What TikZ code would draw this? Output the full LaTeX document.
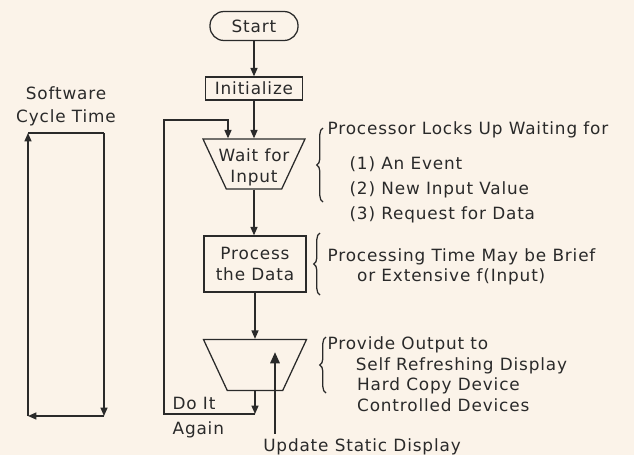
\documentclass[tikz,border=0pt]{standalone}
\usepackage{fontspec}
\setmainfont{DejaVu Sans}[LetterSpace=5]
\usetikzlibrary{shapes.geometric,arrows.meta,decorations.pathreplacing,positioning}
\definecolor{paper}{HTML}{FBF3E9}
\definecolor{ink}{HTML}{2A2A2A}
\newcommand{\pu}{0.025cm}

\begin{document}
\begin{tikzpicture}[x=\pu, y=-\pu, font=\fontsize{12}{15}\selectfont, color=ink, line width=0.9pt]
    \tikzstyle{stepbox} = [rectangle, draw, align=center, inner sep=2pt]
    \tikzstyle{startbox} = [stepbox, rounded corners=14*\pu]
    \tikzstyle{hopper} = [trapezium, draw, shape border rotate=180, trapezium left angle=65, trapezium right angle=65, trapezium stretches body, inner xsep=0pt, inner ysep=25.5*\pu]
    \tikzstyle{note} = [align=left, anchor=north west, inner sep=0pt]
    \tikzstyle{arrow} = [-{Triangle[length=6pt,width=5pt]}]
    \tikzstyle{bigarrow} = [line width=1.8pt, -{Triangle[length=8pt,width=6.5pt]}]
    \tikzstyle{curly} = [decorate, decoration={brace, amplitude=4.5pt}]

    \fill[paper] (0,0) rectangle (634,455);
    \useasboundingbox (0,0) rectangle (634,455);

    % main flow
    \node [startbox, minimum width=88*\pu, minimum height=29*\pu] (start) at (254,26) {Start};
    \node [stepbox, minimum width=97*\pu, minimum height=23*\pu] (init) at (254,88.5) {Initialize};
    \node [hopper, inner ysep=25*\pu, minimum width=102*\pu,
           label={[align=center, yshift=-3*\pu]center:{Wait for\\Input}}] (wait) at (254,164) {};
    \node [stepbox, minimum width=102*\pu, minimum height=56*\pu] (proc) at (255,264) {Process\\the Data};
    \node [hopper, minimum width=103*\pu] (output) at (255,365) {};

    \draw [arrow] (start) -- (init);
    \draw [arrow] (init) -- (wait);
    \draw [arrow] (wait.south) -- (wait.south |- proc.north);
    \draw [arrow] (proc.south) -- (proc.south |- output.north);

    % do it again
    \coordinate (again) at (255,414);
    \coordinate (loopin) at (228,120);
    \draw [arrow] (output.south) -- (again);
    \draw [arrow] (again) -- ++(-91,0) |- (loopin) -- (loopin |- wait.north);
    \node [anchor=west, inner sep=0pt] (doit) at (172,403) {Do It};
    \node [anchor=west, inner sep=0pt] (doitagain) at (172,430) {Again};

    % static display
    \node (update) at (362,447) {Update Static Display};
    \coordinate (updtip) at (275,352);
    \draw [bigarrow] (updtip |- update.north) -- (updtip);

    % software cycle time
    \node [align=center, font=\fontsize{12}{16.4}\selectfont] (cycle) at (66,106) {Software\\Cycle Time};
    \coordinate (ctl) at (28,133);
    \coordinate (ctr) at (104,133);
    \coordinate (cbr) at (104,416);
    \coordinate (cbl) at (28,416);
    \draw (ctl) -- (ctr);
    \draw [arrow] (ctr) -- (cbr);
    \draw [arrow] (cbr) -- (cbl);
    \draw [arrow] (cbl) -- (ctl);

    % notes
    \draw [curly] (323,202) -- (323,128);
    \node [note, font=\fontsize{12}{17.8}\selectfont] (waitnote) at (327,121)
        {Processor Locks Up Waiting for\\[7pt]
         \hspace*{15.6pt}(1) An Event\\
         \hspace*{15.6pt}(2) New Input Value\\
         \hspace*{15.6pt}(3) Request for Data};
    \draw [curly] (320,295) -- (320,233);
    \node [note, font=\fontsize{12}{14.2}\selectfont] (procnote) at (327,248)
        {Processing Time May be Brief\\
         \hspace*{21pt}or Extensive f(Input)};
    \draw [curly] (326,393) -- (326,337);
    \node [note, font=\fontsize{12}{14.7}\selectfont] (outnote) at (327,336)
        {Provide Output to\\
         \hspace*{20pt}Self Refreshing Display\\
         \hspace*{21pt}Hard Copy Device\\
         \hspace*{21pt}Controlled Devices};
\end{tikzpicture}
\end{document}
